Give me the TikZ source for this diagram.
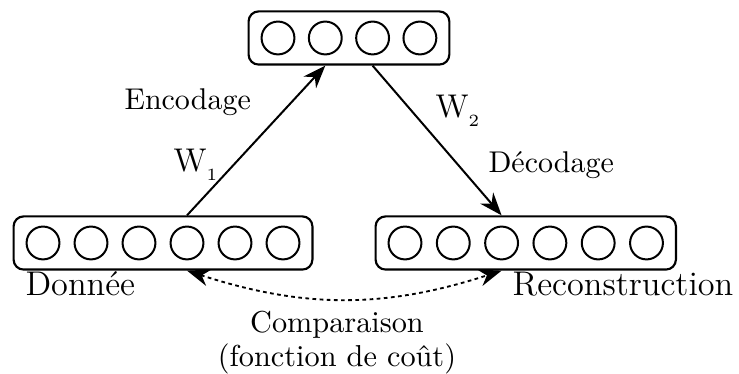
\documentclass[tikz,border=0pt]{standalone}
\usetikzlibrary{positioning, fit, calc, arrows.meta}

\begin{document}
\begin{tikzpicture}[x=0.35pt, y=-0.35pt,
    neuron/.style={circle, draw, line width=0.7pt, minimum size=11.5pt, inner sep=0pt},
    layer/.style={draw, rounded corners=3.5pt, line width=0.75pt, inner xsep=4.2pt, inner ysep=3.2pt},
    conn/.style={line width=0.7pt, -{Stealth[length=8pt,width=6pt,inset=2.6pt]}},
    cmp/.style={line width=0.65pt, dash pattern=on 1.3pt off 1.2pt, {Stealth[length=8pt,width=6pt,inset=2.6pt]}-{Stealth[length=8pt,width=6pt,inset=2.6pt]}},
    biglabel/.style={inner sep=0pt, font=\large},
    smalllabel/.style={inner sep=0pt, font=\fontsize{10.5}{12.6}\selectfont},
    wlabel/.style={inner sep=0pt, font=\fontsize{11.5}{13.8}\selectfont},
    cmplabel/.style={inner sep=0pt, align=center, font=\fontsize{10.6}{11.6}\selectfont}]
          \useasboundingbox (0,0) rectangle (739,374);
          % couches
          \foreach \i in {1,...,6}
            \node[neuron] (in-\i) at ({43+48*(\i-1)},243) {};
          \foreach \i in {1,...,4}
            \node[neuron] (hid-\i) at ({278+47.3*(\i-1)},38) {};
          \foreach \i in {1,...,6}
            \node[neuron] (out-\i) at ({405+48.3*(\i-1)},243) {};
          \node[layer, fit=(in-1)(in-6)] (in) {};
          \node[layer, fit=(hid-1)(hid-4)] (hid) {};
          \node[layer, fit=(out-1)(out-6)] (out) {};
          % liens
          \draw[conn] (in-4 |- in.north) -- (hid-2 |- hid.south);
          \draw[conn] (hid-3 |- hid.south) -- (out-3 |- out.north);
          \draw[cmp] (in-4 |- in.south) to[bend right=18] (out-3 |- out.south);
          % textes
          \node[biglabel, anchor=base west] (donnee) at (25,296) {Donnée};
          \node[biglabel, anchor=base west] (recon) at (512,296) {Reconstruction};
          \node[smalllabel, anchor=base west] (encod) at (124,110) {Encodage};
          \node[smalllabel, anchor=base west] (decod) at (488,173) {Décodage};
          \node[wlabel, anchor=base west] (w1) at (173,172) {W$_{_1}$};
          \node[wlabel, anchor=base west] (w2) at (435,118) {W$_{_2}$};
          \node[cmplabel, anchor=north] (compar) at (337,311) {Comparaison\\(fonction de coût)};
      \end{tikzpicture}
\end{document}
